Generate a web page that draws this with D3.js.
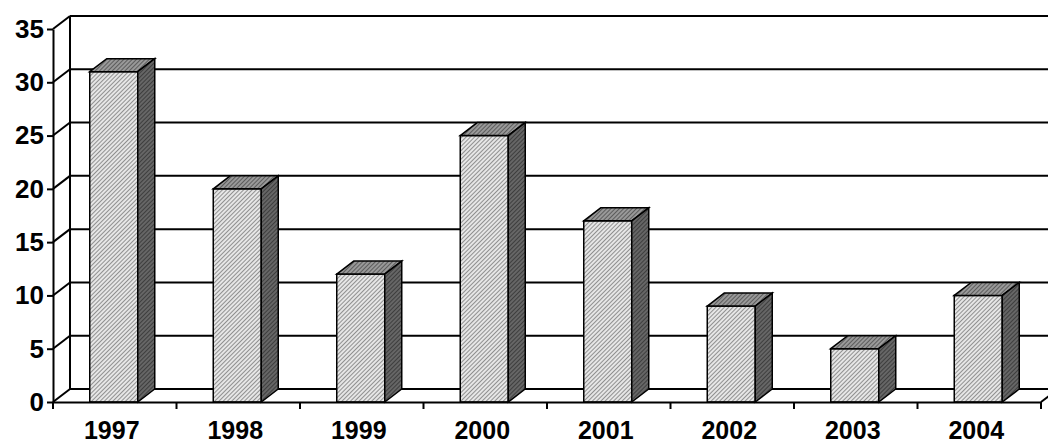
<!DOCTYPE html>
<html><head><meta charset="UTF-8">
<script src="https://cdn.jsdelivr.net/npm/d3@7"></script>
<style>body{margin:0;background:#fff}text{font-family:"Liberation Sans",Arial,sans-serif;font-weight:bold}</style>
</head><body><svg id="c" width="1048" height="446"></svg>
<script>
const years = ["1997","1998","1999","2000","2001","2002","2003","2004"];
const values = [31, 20, 12, 25, 17, 9, 5, 10];
const yTicks = [0,5,10,15,20,25,30,35];

const svg = d3.select("#c");
const dx = 17, dy = -13;
const x = d3.scaleBand().domain(years).range([53, 1041]);
const y = d3.scaleLinear().domain([0, 35]).range([402, 29]);
const bw = 48;

const defs = svg.append("defs");
function hatch(id, bg, fg) {
  const p = defs.append("pattern").attr("id", id).attr("patternUnits", "userSpaceOnUse")
    .attr("width", 3).attr("height", 3).attr("patternTransform", "rotate(45)");
  p.append("rect").attr("width", 3).attr("height", 3).attr("fill", bg);
  p.append("line").attr("x1", 0).attr("y1", 0).attr("x2", 0).attr("y2", 3).attr("stroke", fg).attr("stroke-width", 1.2);
}
hatch("hf", "#e6e6e6", "#555");
hatch("ht", "#999", "#333");
hatch("hs", "#666", "#222");

const x0 = 53, x1 = 1041;
// back wall grid lines
svg.append("g").selectAll("line").data(yTicks).join("line")
  .attr("x1", x0 + dx).attr("x2", x1 + dx)
  .attr("y1", d => y(d) + dy).attr("y2", d => y(d) + dy)
  .attr("stroke", "#000").attr("stroke-width", 2);
// side wall diagonals
svg.append("g").selectAll("line").data(yTicks).join("line")
  .attr("x1", x0).attr("y1", d => y(d)).attr("x2", x0 + dx).attr("y2", d => y(d) + dy)
  .attr("stroke", "#000").attr("stroke-width", 2);
svg.append("line").attr("x1", x0 + dx).attr("x2", x0 + dx).attr("y1", y(0) + dy).attr("y2", y(35) + dy)
  .attr("stroke", "#000").attr("stroke-width", 2);
// floor
svg.append("line").attr("x1", x1).attr("y1", y(0)).attr("x2", x1 + dx).attr("y2", y(0) + dy)
  .attr("stroke", "#000").attr("stroke-width", 2);

// bars
const bars = svg.append("g").selectAll("g").data(years).join("g");
bars.each(function (yr, i) {
  const g = d3.select(this);
  const bx = x(yr) + (x.bandwidth() - bw) / 2 - 1, top = y(values[i]), bot = y(0);
  g.append("rect").attr("x", bx).attr("y", top).attr("width", bw).attr("height", bot - top)
    .attr("fill", "url(#hf)").attr("stroke", "#000").attr("stroke-width", 1.5);
  g.append("path").attr("d", `M${bx},${top}L${bx + dx},${top + dy}L${bx + bw + dx},${top + dy}L${bx + bw},${top}Z`)
    .attr("fill", "url(#ht)").attr("stroke", "#000").attr("stroke-width", 1.5);
  g.append("path").attr("d", `M${bx + bw},${top}L${bx + bw + dx},${top + dy}L${bx + bw + dx},${bot + dy}L${bx + bw},${bot}Z`)
    .attr("fill", "url(#hs)").attr("stroke", "#000").attr("stroke-width", 1.5);
});

// axes
const ya = svg.append("g").attr("transform", `translate(${x0},0)`)
  .call(d3.axisLeft(y).tickValues(yTicks).tickSize(6).tickSizeOuter(0).tickPadding(3));
ya.select(".domain").attr("stroke-width", 2);
ya.selectAll(".tick line").attr("stroke-width", 2);
ya.selectAll("text").style("font-size", "26px").attr("fill", "#000");

const xa = svg.append("g").attr("transform", `translate(0,${y(0)})`)
  .call(d3.axisBottom(x).tickSize(0).tickPadding(19));
xa.select(".domain").attr("stroke-width", 2);
xa.selectAll("text").style("font-size", "25px").attr("fill", "#000").attr("dx", -3);
svg.append("g").selectAll("line").data(d3.range(years.length + 1)).join("line")
  .attr("x1", i => x0 + i * x.step()).attr("x2", i => x0 + i * x.step())
  .attr("y1", y(0)).attr("y2", y(0) + 7).attr("stroke", "#000").attr("stroke-width", 2);
</script></body></html>
